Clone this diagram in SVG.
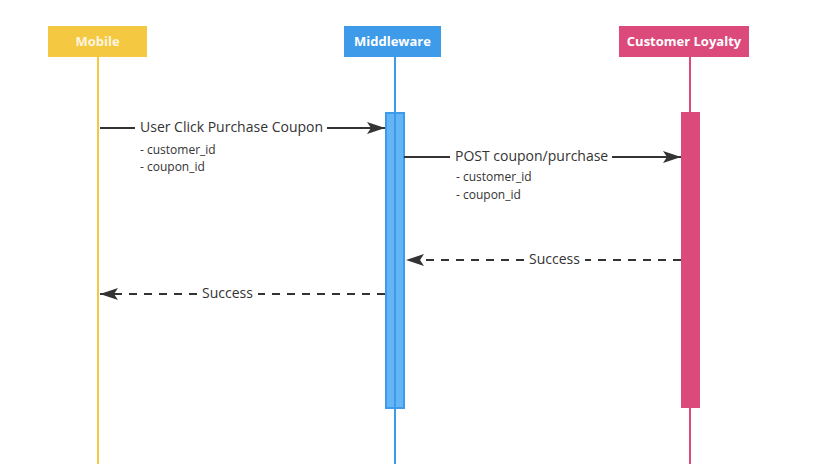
<svg xmlns="http://www.w3.org/2000/svg" width="822" height="464" viewBox="0 0 822 464">
<style>
.hdr{font-family:"Open Sans","Liberation Sans",sans-serif;font-size:13px;font-weight:bold;fill:#ffffff;text-anchor:middle}
.lbl{font-family:"Open Sans","Liberation Sans",sans-serif;font-size:14px;fill:#333333}
.sub{font-family:"Open Sans","Liberation Sans",sans-serif;font-size:12px;fill:#333333}
.msg{stroke:#333333;stroke-width:2;fill:none}
.dash{stroke-dasharray:8 7}
</style>
<defs>
<marker id="arr" viewBox="0 0 18 12" refX="18" refY="6" markerWidth="18" markerHeight="12" markerUnits="userSpaceOnUse" orient="auto">
<path d="M0,0 L18,6 L0,12 L4,6 Z" fill="#333333"/>
</marker>
</defs>
<rect width="822" height="464" fill="#ffffff"/>
<g id="mobile">
<line x1="98" y1="57" x2="98" y2="464" stroke="#f5c842" stroke-width="2"/>
<rect x="48" y="26" width="99" height="31" fill="#f5c842"/>
<text class="hdr" x="97.5" y="46" fill-opacity="0.85">Mobile</text>
</g>
<g id="middleware">
<line x1="395" y1="57" x2="395" y2="464" stroke="#3d9be9" stroke-width="2"/>
<rect x="344" y="26" width="97" height="31" fill="#3d9be9"/>
<text class="hdr" x="392.5" y="46">Middleware</text>
<rect x="386" y="113" width="18" height="295" fill="#64b5f6" stroke="#3d9be9" stroke-width="2"/>
<line x1="395" y1="113" x2="395" y2="408" stroke="#3d9be9" stroke-width="2"/>
</g>
<g id="customer-loyalty">
<line x1="690" y1="57" x2="690" y2="464" stroke="#dc4a7c" stroke-width="2"/>
<rect x="619" y="26" width="130" height="31" fill="#dc4a7c"/>
<text class="hdr" x="684" y="46">Customer Loyalty</text>
<rect x="681" y="112" width="19" height="296" fill="#dc4a7c"/>
</g>
<g id="connectors">
<g id="m1">
<line class="msg" x1="100" y1="128" x2="135" y2="128"/>
<line class="msg" x1="327" y1="128" x2="385" y2="128" marker-end="url(#arr)"/>
<text class="lbl" x="140" y="132">User Click Purchase Coupon</text>
<text class="sub" x="140" y="154">- customer_id</text>
<text class="sub" x="140" y="171">- coupon_id</text>
</g>
<g id="m2">
<line class="msg" x1="404" y1="157" x2="450" y2="157"/>
<line class="msg" x1="612" y1="157" x2="681" y2="157" marker-end="url(#arr)"/>
<text class="lbl" x="455" y="161">POST coupon/purchase</text>
<text class="sub" x="456" y="181">- customer_id</text>
<text class="sub" x="456" y="199">- coupon_id</text>
</g>
<g id="m3">
<line class="msg dash" x1="681" y1="260" x2="585" y2="260"/>
<line class="msg dash" x1="524" y1="260" x2="406" y2="260" marker-end="url(#arr)"/>
<text class="lbl" x="529" y="264">Success</text>
</g>
<g id="m4">
<line class="msg dash" x1="385" y1="294" x2="258" y2="294"/>
<line class="msg dash" x1="197" y1="294" x2="100" y2="294" marker-end="url(#arr)"/>
<text class="lbl" x="202" y="298">Success</text>
</g>
</g>
</svg>
